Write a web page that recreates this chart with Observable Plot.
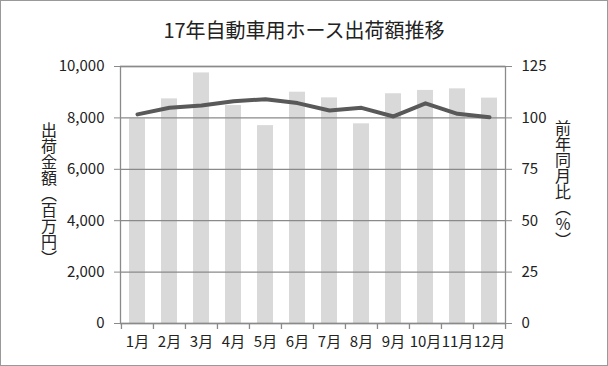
<!DOCTYPE html>
<html><head><meta charset="utf-8">
<script src="https://cdn.jsdelivr.net/npm/d3@7"></script>
<script src="https://cdn.jsdelivr.net/npm/@observablehq/plot@0.6"></script>
<style>
body{margin:0;background:#fff;}
#wrap{position:relative;width:608px;height:366px;overflow:hidden;font-family:"Noto Sans CJK JP","Noto Sans",sans-serif;color:#222;}
#border{position:absolute;left:0;top:0;width:606px;height:364px;border:1px solid #999;pointer-events:none;}
#title{position:absolute;left:0;width:608px;top:17px;text-align:center;font-size:20px;line-height:26px;}
.vlab{position:absolute;writing-mode:vertical-rl;text-orientation:upright;font-size:16px;line-height:18px;width:18px;white-space:nowrap;}
</style></head>
<body><div id="wrap"><div id="title"></div><div id="ylab" class="vlab"></div><div id="y2lab" class="vlab"></div><div id="border"></div></div>
<script>
const months = ["1月","2月","3月","4月","5月","6月","7月","8月","9月","10月","11月","12月"];
const amounts = [7960, 8740, 9750, 8480, 7700, 9000, 8780, 7770, 8940, 9070, 9130, 8770];
const ratios = [101.7, 104.9, 106.0, 108.1, 109.1, 107.2, 103.6, 104.9, 100.7, 107.1, 102.0, 100.3];
const leftTicks = [0, 2000, 4000, 6000, 8000, 10000];
const rightTicks = [0, 25, 50, 75, 100, 125];
const title = "17年自動車用ホース出荷額推移";
const yLabel = "出荷金額（百万円）";
const y2Label = "前年同月比（%）";

const k = 10000 / 125; // right axis maps onto left scale
const data = months.map((m, i) => ({month: m, amount: amounts[i], ratio: ratios[i]}));

const W = 608, H = 366, mL = 120, mR = 103, mT = 66, mB = 43;
const step = (W - mL - mR) / months.length;
const grid = "#8a8a8a";

const plot = Plot.plot({
  width: W, height: H,
  marginLeft: mL, marginRight: mR, marginTop: mT, marginBottom: mB,
  style: {fontFamily: '"Noto Sans CJK JP","Noto Sans",sans-serif', fontSize: "15px", color: "#222", background: "transparent"},
  x: {domain: months, paddingInner: 0.5, paddingOuter: 0.25, axis: null, label: null},
  y: {domain: [0, 10000], label: null, axis: null},
  marks: [
    Plot.barY(data, {x: "month", y: "amount", fill: "#d9d9d9"}),
    Plot.ruleY(leftTicks, {stroke: grid, strokeWidth: 1.3}),
    Plot.frame({stroke: grid, strokeWidth: 1.3}),
    Plot.ruleX(months, {x: d => d, dx: -step / 2, y1: 0, y2: 0, insetBottom: -6, stroke: grid, strokeWidth: 1.3}),
    Plot.ruleX([months[months.length - 1]], {x: d => d, dx: step / 2, y1: 0, y2: 0, insetBottom: -6, stroke: grid, strokeWidth: 1.3}),
    Plot.axisY({ticks: leftTicks, tickFormat: d => d3.format(",")(d), tickSize: 6, tickPadding: 10, stroke: grid, fontSize: 15}),
    Plot.axisY({anchor: "right", ticks: rightTicks.map(t => t * k), tickFormat: d => String(d / k), tickSize: 6, tickPadding: 10, stroke: grid, fontSize: 15}),
    Plot.axisX({tickSize: 0, tickPadding: 13, fontSize: 15, label: null}),
    Plot.lineY(data, {x: "month", y: d => d.ratio * k, stroke: "#595959", strokeWidth: 4, strokeLinejoin: "round", strokeLinecap: "round"})
  ]
});
plot.style.position = "absolute";
plot.style.left = "0px";
plot.style.top = "0px";
const wrap = document.getElementById("wrap");
wrap.insertBefore(plot, wrap.firstChild);
document.getElementById("title").textContent = title;
const yl = document.getElementById("ylab");
yl.textContent = yLabel; yl.style.left = "40px"; yl.style.top = "122px";
const y2 = document.getElementById("y2lab");
y2.textContent = y2Label; y2.style.left = "554px"; y2.style.top = "120px";
</script></body></html>
